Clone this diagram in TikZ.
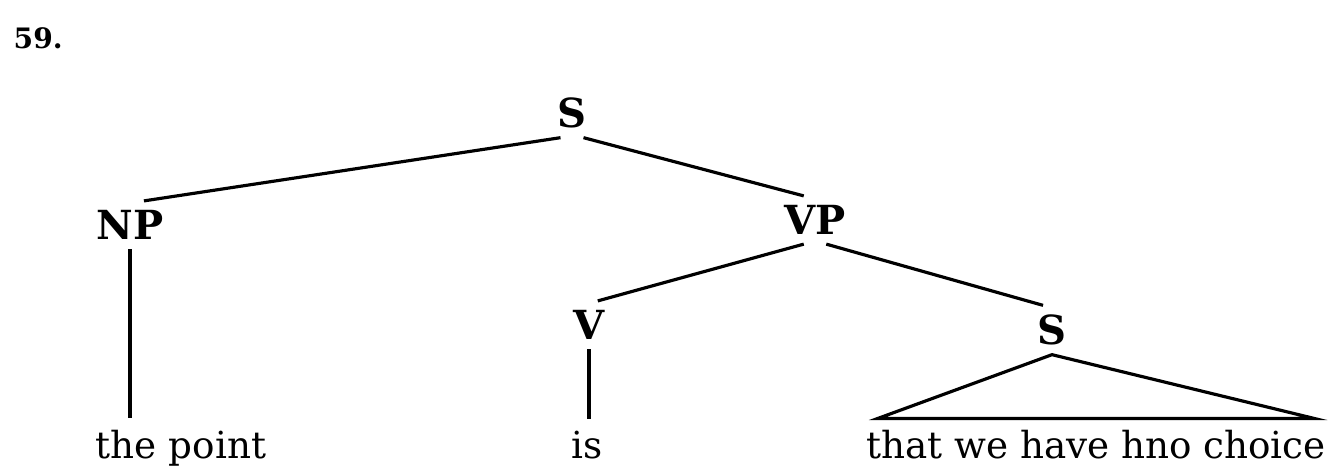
\documentclass[tikz,border=0pt]{standalone}
\usepackage{fontspec}
\setmainfont{DejaVu Serif}
\usepackage{tikz}

\begin{document}
\begin{tikzpicture}[x=0.01cm, y=-0.01cm,
    cat/.style={font=\fontsize{11.4}{13}\selectfont\bfseries, inner xsep=0pt, inner ysep=2.5pt},
    leaf/.style={font=\fontsize{10.6}{13}\selectfont, anchor=base, inner xsep=0pt, inner ysep=3pt},
    branch/.style={line width=0.9pt}]
    \useasboundingbox (0,0) rectangle (1334,475);

    % --- 番号 ---
    \node[anchor=west, inner sep=0pt, font=\fontsize{8}{10}\selectfont\bfseries] (num) at (13,38) {59.};

    % --- 範疇ラベル ---
    \node[cat] (S) at (572,113) {S};
    \node[cat] (NP) at (130,225) {NP};
    \node[cat] (VP) at (815,220) {VP};
    \node[cat] (V) at (589,325) {V};
    \node[cat] (S2) at (1052,330) {S};

    % --- 終端 ---
    \node[leaf] (tp) at (181,458) {the point};
    \node[leaf] (is) at (587,458) {is};
    \node[leaf, inner xsep=-3.5pt] (th) at (1096,458) {that we have hno choice};

    % --- 枝 ---
    \draw[branch] (S.-115) -- (NP.60);
    \draw[branch] (S.-65) -- (VP.115);
    \draw[branch] (VP.-115) -- (V.70);
    \draw[branch] (VP.-65) -- (S2.110);
    \draw[branch] (NP.south) -- (NP.south |- tp.north);
    \draw[branch] (V.south) -- (V.south |- is.north);
    % 三角形 (省略された S)
    \draw[branch] (S2.south) -- (th.north west) -- (th.north east) -- cycle;
\end{tikzpicture}
\end{document}
